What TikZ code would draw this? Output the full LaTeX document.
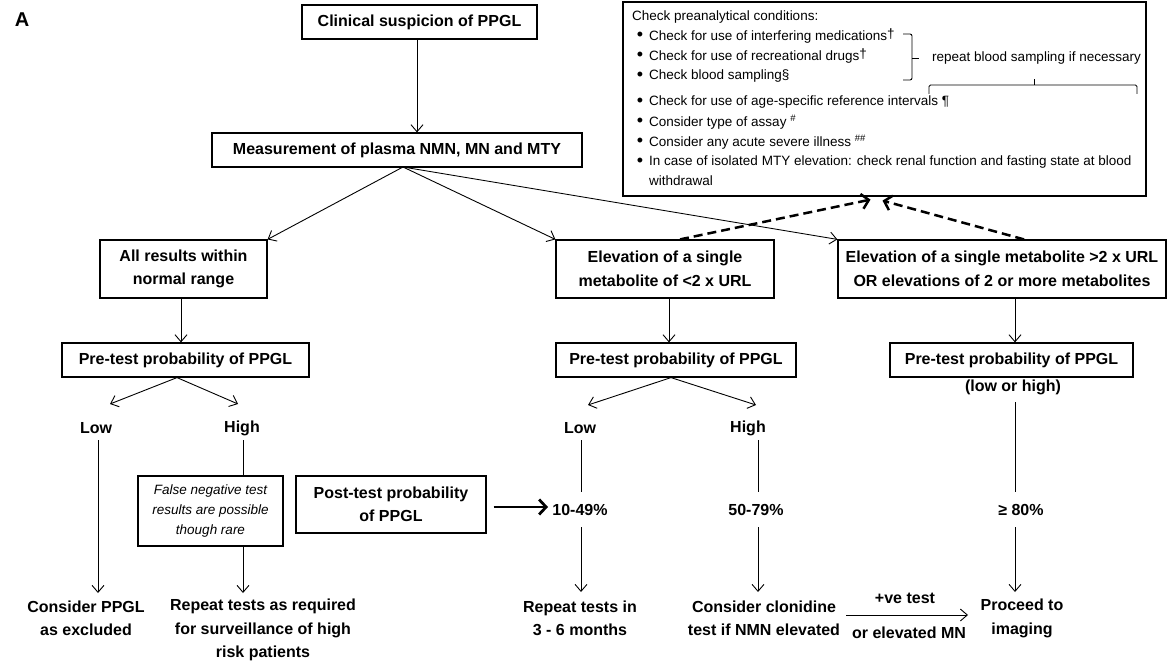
\documentclass[tikz,border=0pt]{standalone}
\usepackage{fontspec}
\setmainfont{Liberation Sans}
\usetikzlibrary{arrows.meta}
\begin{document}
\begin{tikzpicture}[x=1pt,y=-1pt,
  bx/.style={draw, line width=1.2pt, inner sep=0pt, align=center},
  bf/.style={font=\fontsize{16}{23.5}\selectfont\bfseries, align=center, inner sep=0pt},
  rg/.style={font=\fontsize{13.5}{20}\selectfont, inner sep=0pt, anchor=west},
  bul/.style={font=\fontsize{18}{20}\selectfont, inner sep=0pt},
  itx/.style={font=\fontsize{13.5}{20}\selectfont\itshape, align=center, inner sep=0pt},
  arr/.style={-{Straight Barb[length=7pt,width=12pt]}, line width=0.9pt},
  ln/.style={line width=0.9pt},
  dsh/.style={line width=2.5pt, dash pattern=on 9pt off 5pt, -{Straight Barb[length=7pt,width=15pt]}},
  thk/.style={line width=2.8pt, -{Straight Barb[length=7pt,width=15pt]}}
]
\useasboundingbox (0,0) rectangle (1170,663);

\node[font=\fontsize{20}{20}\selectfont\bfseries, inner sep=0pt] (lblA) at (22,20) {A};

\node[bx,bf,minimum width=235pt,minimum height=34pt] (clin) at (419.5,22) {Clinical suspicion of PPGL};
\node[bx,bf,minimum width=370pt,minimum height=34pt] (meas) at (397,150) {Measurement of plasma NMN, MN and MTY};
\coordinate (c1) at ([xshift=-2.5pt]clin.south);
\draw[arr] (c1) -- (c1 |- meas.north);

% preanalytical box
\node[bx,minimum width=523pt,minimum height=194pt] (chk) at (884.5,99) {};
\node[rg] (t0) at (632,17) {Check preanalytical conditions:};
\node[bul] (b1) at (640,36) {•};
\node[rg] (t1) at (649,36) {Check for use of interfering medications\raisebox{1.5pt}{†}};
\node[bul] (b2) at (640,56) {•};
\node[rg] (t2) at (649,56) {Check for use of recreational drugs\raisebox{1.5pt}{†}};
\node[bul] (b3) at (640,76) {•};
\node[rg] (t3) at (649,76) {Check blood sampling§};
\node[bul] (b4) at (640,102) {•};
\node[rg] (t4) at (649,102) {Check for use of age-specific reference intervals ¶};
\node[bul] (b5) at (640,122) {•};
\node[rg] (t5) at (649,122) {Consider type of assay \textsuperscript{\#}};
\node[bul] (b6) at (640,142) {•};
\node[rg] (t6) at (649,142) {Consider any acute severe illness \textsuperscript{\#\#}};
\node[bul] (b7) at (640,162) {•};
\node[rg] (t7) at (649,162) {In case of isolated MTY elevation: check renal function and fasting state at blood};
\node[rg] (t8) at (649,181) {withdrawal};
\draw[ln, rounded corners=2pt] (903,34) -- (912,34) -- (912,80) -- (903,80);
\draw[ln] (912,58) -- (919,58);
\node[rg] (rep) at (932,58) {repeat blood sampling if necessary};
\draw[ln, rounded corners=1.5pt] (929,94) -- (929,85) -- (1137,85) -- (1137,94);
\draw[ln] (1034,85) -- (1034,79);

% second row
\node[bx,bf,minimum width=167pt,minimum height=58pt] (allres) at (183.5,269) {All results within\\normal range};
\node[bx,bf,minimum width=218pt,minimum height=58pt] (elev1) at (665,269) {Elevation of a single\\metabolite of <2 x URL};
\node[bx,bf,minimum width=328pt,minimum height=58pt] (elev2) at (1002,269) {Elevation of a single metabolite >2 x URL\\OR elevations of 2 or more metabolites};

\coordinate (apex) at (403,167);
\draw[arr] (apex) -- (allres.north east);
\draw[arr] (apex) -- (elev1.north west);
\draw[arr] (apex) -- (elev2.north west);

\draw[dsh] ([xshift=15pt]elev1.north) -- ([xshift=-14pt,yshift=-3pt]chk.south);
\draw[dsh] ([xshift=22pt]elev2.north) -- ([xshift=-2pt,yshift=-4pt]chk.south);

% third row
\node[bx,bf,minimum width=247pt,minimum height=34pt] (pre1) at (185.5,360) {Pre-test probability of PPGL};
\node[bx,bf,minimum width=240pt,minimum height=34pt] (pre2) at (676,360) {Pre-test probability of PPGL};
\node[bx,bf,minimum width=243pt,minimum height=34pt] (pre3) at (1011.5,360) {Pre-test probability of PPGL};
\node[bf] (lh) at (1013,387) {(low or high)};

\coordinate (a1) at ([xshift=-2.5pt]allres.south);
\draw[arr] (a1) -- (a1 |- pre1.north);
\coordinate (a2) at ([xshift=4pt]elev1.south);
\draw[arr] (a2) -- (a2 |- pre2.north);
\coordinate (a3) at ([xshift=13pt]elev2.south);
\draw[arr] (a3) -- (a3 |- pre3.north);

% low / high
\node[bf] (low1) at (96,428) {Low};
\node[bf] (high1) at (242,428) {High};
\node[bf] (low2) at (580,428) {Low};
\node[bf] (high2) at (748,428) {High};

\coordinate (s1) at ([xshift=-8.5pt]pre1.south);
\coordinate (lo1t) at (110,404);
\coordinate (hi1t) at (238,404);
\draw[arr] (s1) -- (lo1t);
\draw[arr] (s1) -- (hi1t);
\coordinate (s2) at ([xshift=-5pt]pre2.south);
\coordinate (lo2t) at (588,405);
\coordinate (hi2t) at (756,405);
\draw[arr] (s2) -- (lo2t);
\draw[arr] (s2) -- (hi2t);

% column 1
\node[bf] (excl) at (86,618.5) {Consider PPGL\\as excluded};
\coordinate (l1a) at (98,440);
\coordinate (l1b) at (98,593);
\draw[arr] (l1a) -- (l1b);

\node[bx,itx,minimum width=145pt,minimum height=70pt] (fn) at (210.5,511) {False negative test\\results are possible\\though rare};
\coordinate (h1a) at (243,440);
\draw[ln] (h1a) -- (h1a |- fn.north);
\coordinate (h1b) at (243,593);
\draw[arr] (h1a |- fn.south) -- (h1b);
\node[bf] (rep1) at (263,630) {Repeat tests as required\\for surveillance of high\\risk patients};

% post-test
\node[bx,bf,minimum width=190pt,minimum height=57pt] (post) at (391,504.5) {Post-test probability\\of PPGL};
\node[bf] (p1) at (580,510) {10-49\%};
\node[bf] (p2) at (756,510) {50-79\%};
\node[bf] (p3) at (1021,510) {≥ 80\%};
\coordinate (pe) at ([xshift=7pt,yshift=-2.5pt]post.east);
\coordinate (pt) at (548,507);
\draw[thk] (pe) -- (pt);

% column 2
\coordinate (l2a) at (581,440);
\coordinate (l2b) at (581,492);
\draw[ln] (l2a) -- (l2b);
\coordinate (l2c) at (581,527);
\coordinate (l2d) at (581,592);
\draw[arr] (l2c) -- (l2d);
\node[bf] (rep2) at (580,618.5) {Repeat tests in\\3 - 6 months};

% column 3
\coordinate (h2a) at (758,440);
\coordinate (h2b) at (758,492);
\draw[ln] (h2a) -- (h2b);
\coordinate (h2c) at (758,527);
\coordinate (h2d) at (758,592);
\draw[arr] (h2c) -- (h2d);
\node[bf] (clon) at (764,618.5) {Consider clonidine\\test if NMN elevated};

% column 4
\coordinate (r3a) at (1015,402);
\coordinate (r3b) at (1015,492);
\draw[ln] (r3a) -- (r3b);
\coordinate (r3c) at (1015,527);
\coordinate (r3d) at (1015,592);
\draw[arr] (r3c) -- (r3d);
\node[bf] (proc) at (1022,618.5) {Proceed to\\imaging};

\node[bf] (pve) at (905,598) {+ve test};
\node[bf] (orel) at (909,633) {or elevated MN};
\coordinate (ca) at (846,615);
\coordinate (cb) at (968,615);
\draw[arr] (ca) -- (cb);
\end{tikzpicture}
\end{document}
